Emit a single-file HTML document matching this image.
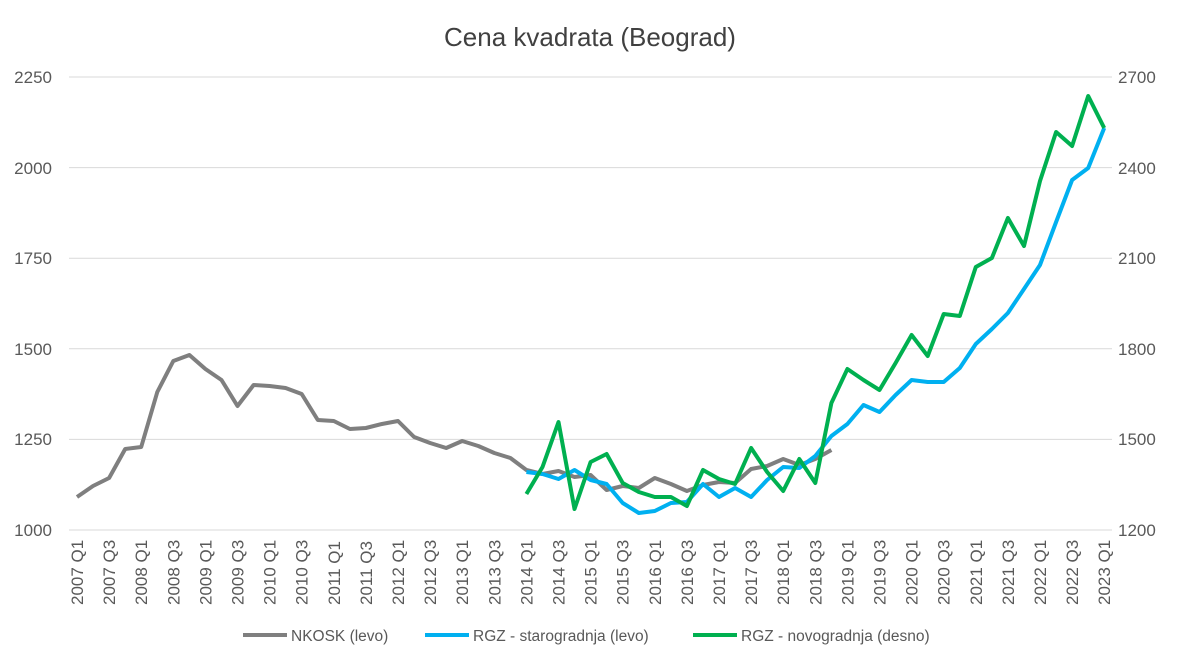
<!DOCTYPE html>
<html><head><meta charset="utf-8"><style>
body{margin:0;background:#fff;}
svg{display:block;font-family:"Liberation Sans",sans-serif;}
</style></head><body>
<svg width="1181" height="667" viewBox="0 0 1181 667" xmlns="http://www.w3.org/2000/svg">
<rect width="1181" height="667" fill="#fff"/>
<text x="590" y="46" text-anchor="middle" font-size="26" fill="#404040">Cena kvadrata (Beograd)</text>
<g stroke="#d9d9d9" stroke-width="1">
<line x1="69" x2="1112" y1="77" y2="77"/><line x1="69" x2="1112" y1="167.6" y2="167.6"/>
<line x1="69" x2="1112" y1="258.2" y2="258.2"/><line x1="69" x2="1112" y1="348.8" y2="348.8"/>
<line x1="69" x2="1112" y1="439.4" y2="439.4"/><line x1="69" x2="1112" y1="530" y2="530"/>
</g>
<g font-size="17" fill="#595959" text-anchor="end">
<text x="52" y="83">2250</text><text x="52" y="174">2000</text><text x="52" y="264">1750</text>
<text x="52" y="355">1500</text><text x="52" y="445">1250</text><text x="52" y="536">1000</text>
</g>
<g font-size="17" fill="#595959" text-anchor="start">
<text x="1118" y="83">2700</text><text x="1118" y="174">2400</text><text x="1118" y="264">2100</text>
<text x="1118" y="355">1800</text><text x="1118" y="445">1500</text><text x="1118" y="536">1200</text>
</g>
<g id="xl" font-size="17" fill="#595959"></g>
<polyline id="g" fill="none" stroke="#7f7f7f" stroke-width="4" stroke-linejoin="round"/>
<polyline id="b" fill="none" stroke="#00b0f0" stroke-width="4" stroke-linejoin="round"/>
<polyline id="gr" fill="none" stroke="#00b050" stroke-width="4" stroke-linejoin="round"/>
<line x1="243" x2="287" y1="635" y2="635" stroke="#7f7f7f" stroke-width="4"/>
<text x="291" y="641" font-size="15.5" fill="#595959">NKOSK (levo)</text>
<line x1="425" x2="469" y1="635" y2="635" stroke="#00b0f0" stroke-width="4"/>
<text x="473" y="641" font-size="15.5" fill="#595959">RGZ - starogradnja (levo)</text>
<line x1="693" x2="737" y1="635" y2="635" stroke="#00b050" stroke-width="4"/>
<text x="741" y="641" font-size="15.5" fill="#595959">RGZ - novogradnja (desno)</text>
</svg>
<script>
var X=function(i){return 77+i*16.05;};
var gy=[497,486,478,449,447,392,361,355,369,380,406,385,386,388,394,420,421,429,428,424,421,437,443,448,441,446,453,458,470,474,471,477,475,490,486,488,478,484,491,485,482,483,469,466,459,465,459,450];
var by=[472,474,479,470,480,484,503,513,511,503,502,484,497,488,497,480,467,468,456,436,424,405,412,395,380,382,382,368,344,329,313,289,265,222,180,168,128];
var ry=[494,467,422,509,462,454,483,492,497,497,506,470,479,484,448,472,491,459,483,403,369,380,390,363,335,356,314,316,267,258,218,246,181,132,146,96,128];
function pts(a,o){return a.map(function(y,i){return X(i+o).toFixed(1)+","+y}).join(" ");}
document.getElementById("g").setAttribute("points",pts(gy,0));
document.getElementById("b").setAttribute("points",pts(by,28));
document.getElementById("gr").setAttribute("points",pts(ry,28));
var xl=document.getElementById("xl"),s="";
for(var i=0;i<=64;i+=2){var yr=2007+Math.floor(i/4),q=(i%4==0)?"Q1":"Q3";var x=X(i)+6;
s+='<text transform="translate('+x.toFixed(1)+',605) rotate(-90)">'+yr+' '+q+'</text>';}
xl.innerHTML=s;
</script>
</body></html>
